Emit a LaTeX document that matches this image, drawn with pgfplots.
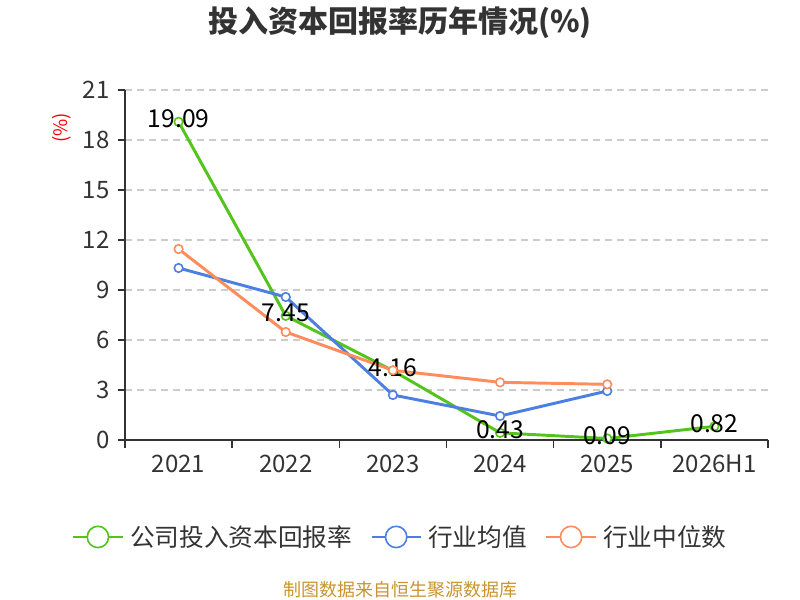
\documentclass[border=0pt]{standalone}
\usepackage{pgfplots}
\pgfplotsset{compat=1.18}
\usepackage{fontspec}
\setmainfont{Noto Sans CJK SC}
\definecolor{cgreen}{HTML}{52C41A}
\definecolor{cblue}{HTML}{4C7FE0}
\definecolor{corange}{HTML}{FF8C5A}
\definecolor{csrc}{HTML}{C9942E}
\definecolor{ctxt}{HTML}{333333}
\definecolor{cgrid}{HTML}{CCCCCC}
\begin{document}
\begin{tikzpicture}
\path[use as bounding box] (0,0) rectangle (600pt,450pt);
\node[font=\fontsize{22.5}{27}\selectfont\bfseries, text=ctxt] at (300pt,433pt) {投入资本回报率历年情况(\%)};
\node[font=\fontsize{14}{16}\selectfont, text=red, rotate=90] at (46.5pt,354pt) {(\%)};
\node[font=\fontsize{13.5}{16}\selectfont, text=csrc] at (300pt,7.5pt) {制图数据来自恒生聚源数据库};
\begin{axis}[
  at={(93.75pt,120pt)}, anchor=south west,
  scale only axis, width=482.25pt, height=262.5pt,
  xmin=-0.5, xmax=5.5, ymin=0, ymax=21,
  axis lines*=left,
  axis line style={ctxt, line width=1.1pt},
  xtick={0,...,5},
  xticklabels={2021,2022,2023,2024,2025,2026H1},
  minor xtick={-0.5,0.5,...,5.5},
  ytick={0,3,...,21},
  tick align=outside,
  major tick length=5pt, minor tick length=6pt,
  x tick style={draw=none},
  minor x tick style={draw=ctxt, line width=1.1pt},
  y tick style={draw=ctxt, line width=1.1pt},
  ymajorgrids,
  grid style={cgrid, dashed, dash pattern=on 5pt off 4pt, line width=0.9pt},
  /pgf/number format/assume math mode=true,
  ticklabel style={font=\fontsize{18}{21}\selectfont, text=ctxt},
  xticklabel style={yshift=-3pt},
  yticklabel style={xshift=-3pt},
  every axis plot/.append style={line width=2.2pt, mark=*, mark size=3.2pt,
     mark options={fill=white, line width=1.2pt}},
  nodes near coords style={font=\fontsize{18.5}{21}\selectfont, text=black, anchor=center, yshift=2pt},
  legend style={at={(0.429,-0.277)}, anchor=center, draw=none, fill=none,
     legend columns=3, font=\fontsize{18.5}{22}\selectfont, text=ctxt,
     /tikz/every even column/.append style={column sep=12pt},
     /tikz/every odd column/.append style={column sep=3pt}},
  legend image code/.code={\draw[mark repeat=2, mark phase=2, line width=1.2pt, mark size=8pt]
     plot coordinates {(0pt,0pt) (18.5pt,0pt) (37pt,0pt)};},
  clip=false,
]
\addplot[cgreen, nodes near coords, point meta=explicit symbolic] coordinates {
 (0,19.09)[19.09] (1,7.45)[7.45] (2,4.16)[4.16] (3,0.43)[0.43] (4,0.09)[0.09] (5,0.82)[0.82]};
\addlegendentry{公司投入资本回报率}
\addplot[cblue] coordinates {(0,10.32) (1,8.58) (2,2.70) (3,1.44) (4,2.94)};
\addlegendentry{行业均值}
\addplot[corange] coordinates {(0,11.46) (1,6.48) (2,4.18) (3,3.46) (4,3.34)};
\addlegendentry{行业中位数}
\end{axis}
\end{tikzpicture}
\end{document}
